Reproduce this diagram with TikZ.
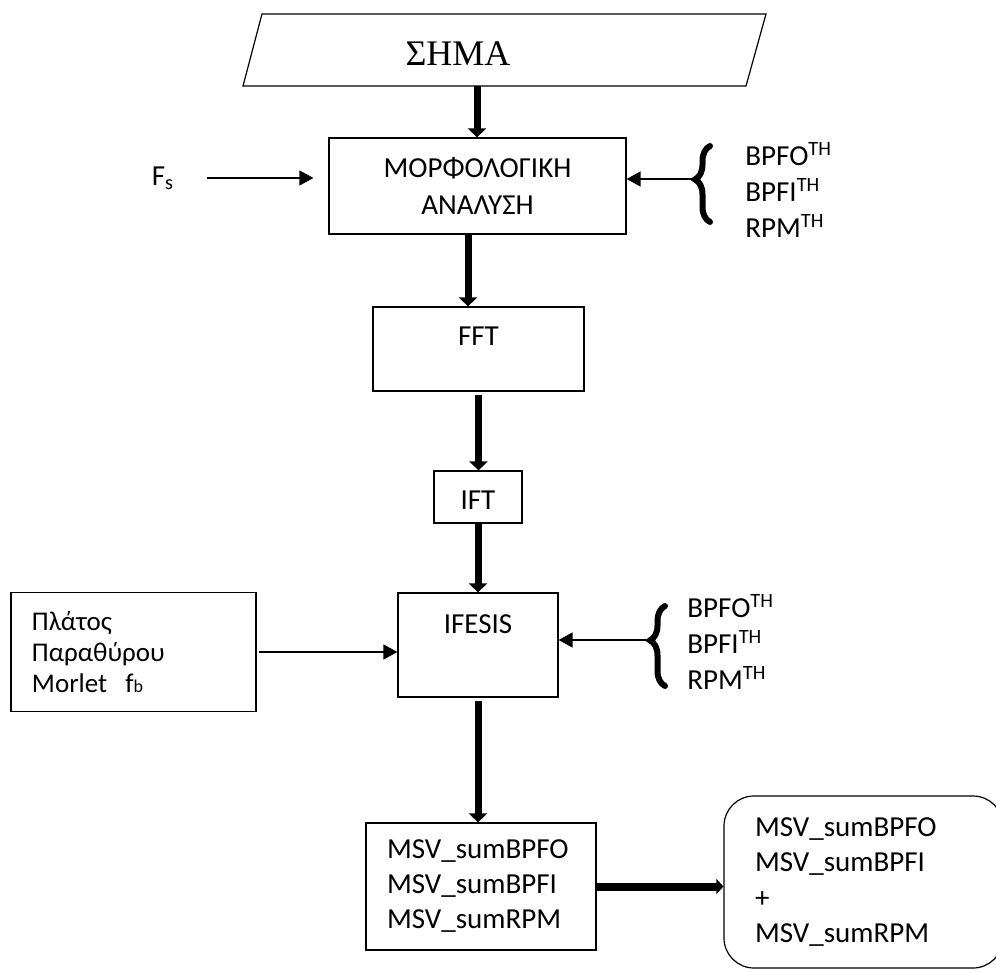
\documentclass[tikz,border=0pt]{standalone}
\usepackage{fontspec}
\setmainfont{Carlito}
\newfontfamily\timesfont{Liberation Serif}
\usetikzlibrary{arrows.meta,decorations.pathreplacing,calc}
\begin{document}
\begin{tikzpicture}[x=0.5pt,y=-0.5pt,
  every node/.style={font=\fontsize{14.5}{18}\selectfont},
  box/.style={draw, line width=0.6pt, inner sep=0pt},
  thickarrow/.style={line width=3.5pt, -{Triangle[width=9pt,length=4.5pt]}},
  thinarrow/.style={line width=0.65pt, -{Triangle[width=7.5pt,length=7pt]}},
  bigbrace/.style={line width=3pt, line cap=round, decorate},
  textcol/.style={anchor=west, align=left, inner sep=0pt, font=\fontsize{14.5}{18}\selectfont},
]
\useasboundingbox (0,0) rectangle (996,972);

% signal (parallelogram)
\draw[line width=0.6pt] (262,14) -- (766,14) -- (746,86) -- (243,86) -- cycle;
\node[font=\timesfont\fontsize{18}{20}\selectfont] (signal) at (458,54) {ΣΗΜΑ};
\coordinate (sigbot) at (477,86);

% boxes
\node[box, minimum width=148.5pt, minimum height=48pt, align=center,
      font=\fontsize{14.5}{18.5}\selectfont] (morph) at (477.5,186) {ΜΟΡΦΟΛΟΓΙΚΗ\\ΑΝΑΛΥΣΗ};
\node[box, minimum width=105.5pt, text height=19.3pt, text depth=22.7pt] (fft) at (478.5,349) {FFT};
\node[box, minimum width=44pt, text height=19.5pt, text depth=6.5pt] (ift) at (478,497) {IFT};
\node[box, minimum width=80pt, text height=20.3pt, text depth=31.7pt] (ifesis) at (478,645) {IFESIS};
\node[box, minimum width=122.5pt, minimum height=59.5pt, text width=101.5pt, align=left,
      font=\fontsize{13.5}{15.5}\selectfont] (params) at (133.5,652) {Πλάτος\\Παραθύρου\\Morlet\ \ f{\fontsize{9}{9}\selectfont b}};
\node[box, minimum width=115pt, minimum height=63.5pt, text width=94pt, align=left,
      font=\fontsize{14.5}{17.5}\selectfont] (msv) at (481,886.5) {MSV\_sumBPFO\\MSV\_sumBPFI\\MSV\_sumRPM};
\node[box, rounded corners=15pt, minimum width=139.5pt, minimum height=86pt, text width=108.5pt, align=left,
      font=\fontsize{14.5}{17.75}\selectfont] (result) at (863.5,882) {MSV\_sumBPFO\\MSV\_sumBPFI\\+\\MSV\_sumRPM};

% side inputs
\node[inner sep=0pt] (fs) at (163,178) {F\textsubscript{s}};
\node[textcol] (th1) at (745,190) {BPFO\textsuperscript{TH}\\BPFI\textsuperscript{TH}\\RPM\textsuperscript{TH}};
\node[textcol] (th2) at (687,642) {BPFO\textsuperscript{TH}\\BPFI\textsuperscript{TH}\\RPM\textsuperscript{TH}};

% braces
\draw[bigbrace, decoration={brace, amplitude=7.5pt, aspect=0.56}] (710,222) -- (710,146);
\coordinate (b1) at (694,179);
\draw[bigbrace, decoration={brace, amplitude=7.5pt, aspect=0.57}] (665,686) -- (665,606);
\coordinate (b2) at (649,640);

% connectors
\draw[thickarrow] (sigbot) -- (sigbot |- morph.north);
\coordinate (m2) at ([xshift=-4.75pt]morph.south);
\draw[thickarrow] (m2) -- (m2 |- fft.north);
\draw[thickarrow, shorten <=1.5pt] (fft.south) -- (fft.south |- ift.north);
\draw[thickarrow] (ift.south) -- (ift.south |- ifesis.north);
\draw[thickarrow, shorten <=1.5pt] (ifesis.south) -- (ifesis.south |- msv.north);
\draw[line width=4pt, -{Triangle[width=7.5pt,length=3.5pt]}] (msv.east) -- (msv.east -| result.west);

\draw[thinarrow, shorten <=16pt, shorten >=7.5pt] (fs.east) -- (fs.east -| morph.west);
\draw[thinarrow] (b1) -- (b1 -| morph.east);
\draw[thinarrow, shorten <=1pt] (params.east) -- (params.east -| ifesis.west);
\draw[thinarrow] (b2) -- (b2 -| ifesis.east);
\end{tikzpicture}
\end{document}
